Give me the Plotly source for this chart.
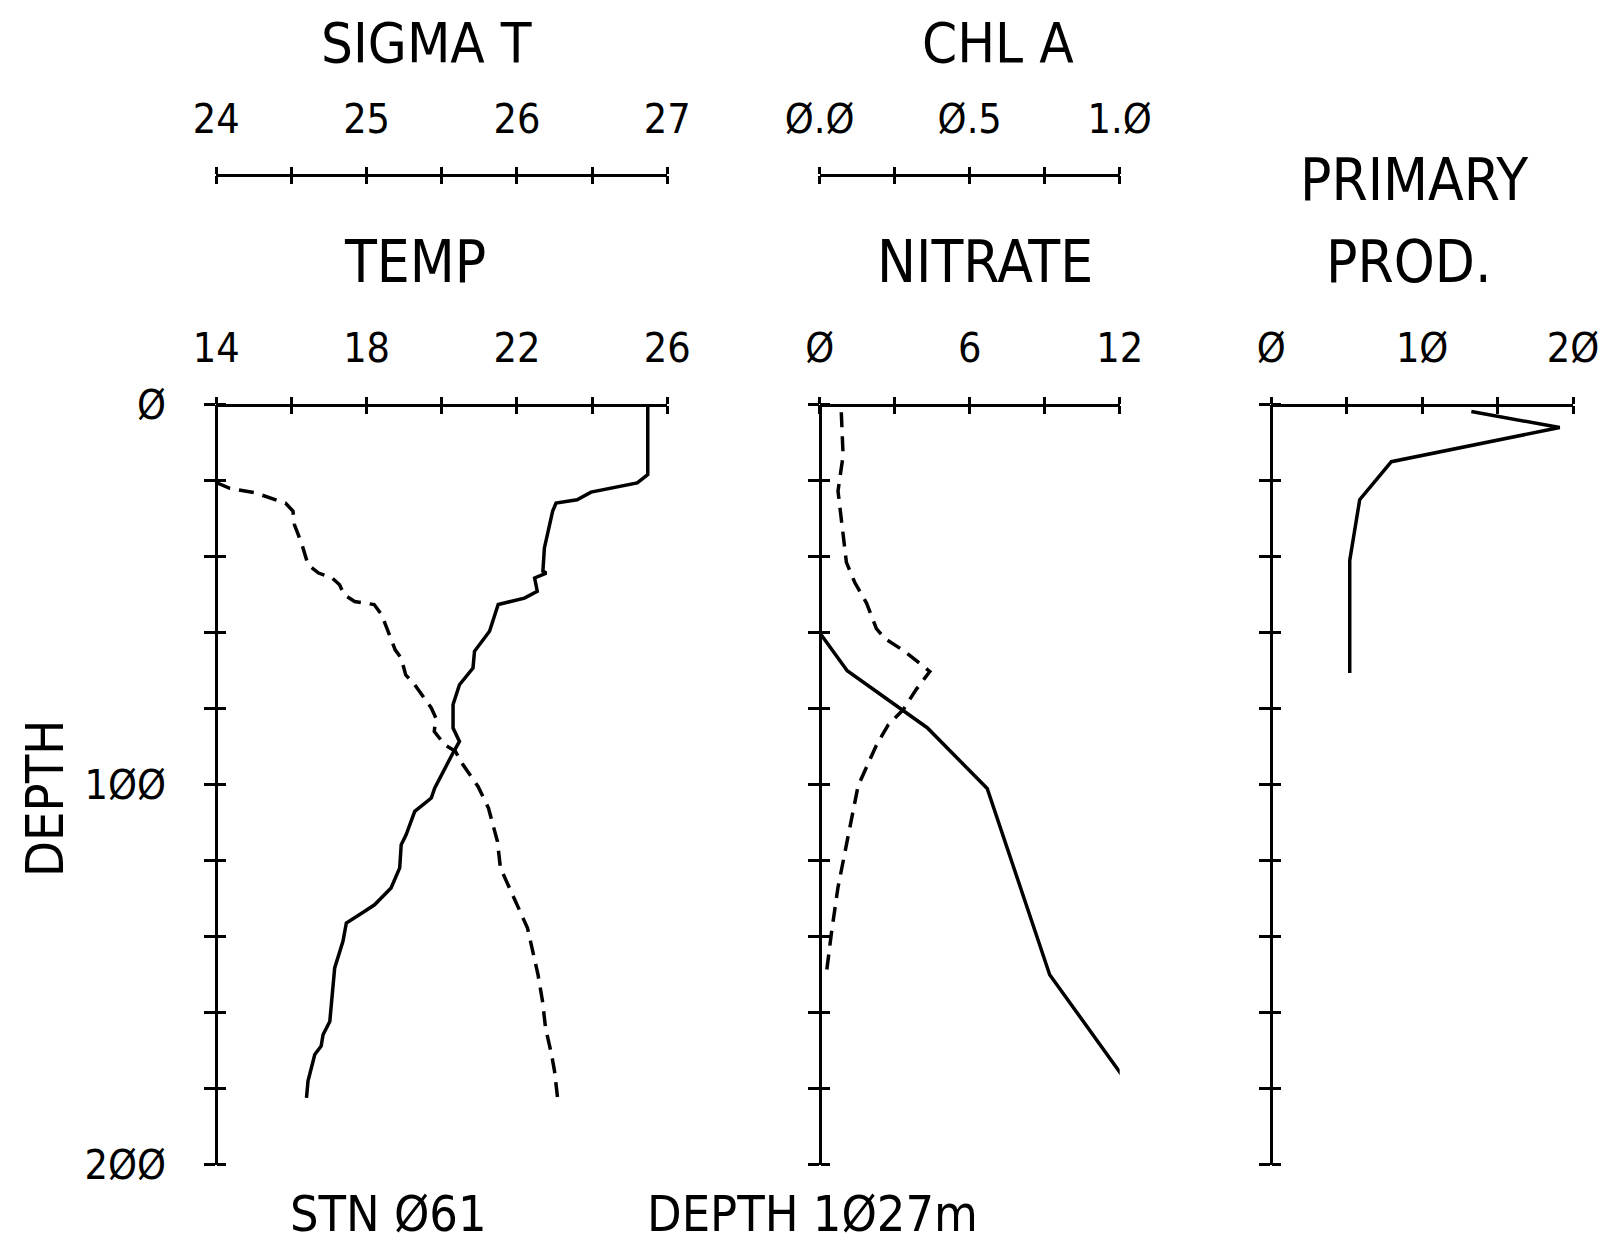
import plotly.graph_objects as go

W, H = 1606, 1246
FONT = "DejaVu Sans Condensed, Liberation Sans Narrow, Roboto, sans-serif"

# ---------------- data ----------------
temp_depth = [0, 18.4, 20.6, 23, 25, 25.9, 28, 36, 37.7, 43.8, 44.3, 45.6, 49.1, 50.9, 52.6,
              59.6, 64.9, 69.3, 73.7, 78.9, 85.1, 88.6, 91.6, 100.9, 103.5, 107, 113.2, 115.8,
              121.9, 127.2, 131.6, 133.3, 136.4, 141.2, 148.2, 162.3, 165.8, 168.8, 171, 178, 182.4]
temp_val = [25.48, 25.48, 25.2, 23.97, 23.6, 23.04, 22.95, 22.78, 22.73, 22.69, 22.78, 22.47,
            22.54, 22.2, 21.5, 21.27, 20.87, 20.83, 20.47, 20.3, 20.3, 20.47, 20.3, 19.81, 19.72,
            19.28, 19.05, 18.92, 18.88, 18.65, 18.21, 17.95, 17.46, 17.37, 17.15, 17.02, 16.84,
            16.79, 16.62, 16.44, 16.4]

sigma_depth = [20.5, 22, 23.2, 25.9, 28, 31.6, 36.8, 42.1, 44.3, 45.6, 47.4, 50, 51.8, 52.6, 55.3,
               59.6, 64.5, 66.7, 71.1, 73.7, 77.2, 79.8, 82.4, 86, 89.5, 91.2, 94.7, 100.4, 106.1,
               114.9, 121.9, 128, 133.3, 137.7, 144.7, 150, 157, 164, 171, 175.4, 182.4]
sigma_val = [24.0, 24.09, 24.26, 24.46, 24.51, 24.52, 24.57, 24.61, 24.68, 24.77, 24.82, 24.85,
             24.92, 25.05, 25.1, 25.14, 25.19, 25.23, 25.26, 25.32, 25.38, 25.43, 25.46, 25.45,
             25.52, 25.59, 25.64, 25.74, 25.81, 25.87, 25.89, 25.96, 26.02, 26.07, 26.11, 26.14,
             26.17, 26.19, 26.23, 26.25, 26.27]

nitrate_depth = [60, 70, 85, 101, 150, 182]
nitrate_val = [0.0, 1.1, 4.3, 6.7, 9.2, 12.7]

chl_depth = [2, 13.4, 22.7, 33.4, 41.5, 46.8, 52.2, 58.9, 61.5, 64.9, 70.2, 74.9, 80.3, 84.3,
             89.6, 100.3, 107, 116.4, 127, 139.1, 149.8]
chl_val = [0.072, 0.078, 0.061, 0.078, 0.089, 0.117, 0.156, 0.189, 0.217, 0.283, 0.367, 0.322,
           0.278, 0.228, 0.189, 0.128, 0.111, 0.089, 0.061, 0.039, 0.022]

pp_depth = [1.8, 6, 15, 25, 41, 70.6]
pp_val = [13.26, 19.12, 7.96, 5.86, 5.2, 5.2]

depth_ticks = list(range(0, 201, 20))
depth_labels = {0: "Ø", 100: "1ØØ", 200: "2ØØ"}
temp_ticks = [14, 16, 18, 20, 22, 24, 26]
temp_labels = {14: "14", 18: "18", 22: "22", 26: "26"}
sigma_ticks = [24, 24.5, 25, 25.5, 26, 26.5, 27]
sigma_labels = {24: "24", 25: "25", 26: "26", 27: "27"}
nitrate_ticks = [0, 3, 6, 9, 12]
nitrate_labels = {0: "Ø", 6: "6", 12: "12"}
chl_ticks = [0, 0.25, 0.5, 0.75, 1.0]
chl_labels = {0: "Ø.Ø", 0.5: "Ø.5", 1.0: "1.Ø"}
pp_ticks = [0, 5, 10, 15, 20]
pp_labels = {0: "Ø", 10: "1Ø", 20: "2Ø"}

# ---------------- layout geometry (pixels) ----------------
def fx(px):
    return px / W

def fy(py):
    return 1 - py / H

P1 = (208.3, 659.3)
P2 = (811.7, 1111.7)
P3 = (1263.3, 1565.0)
YTOP, YBOT = 396.7, 1156.7
Y_SCALE2 = 167.0

ydom = [fy(YBOT), fy(YTOP)]
LW = 3
TICKFONT = dict(family=FONT, size=41, color="black")

fig = go.Figure()

line_solid = dict(color="black", width=3.5)
line_dash = dict(color="black", width=3.5, dash="15px,9px")

fig.add_trace(go.Scatter(x=temp_val, y=temp_depth, mode="lines", line=line_solid,
                         xaxis="x", yaxis="y", showlegend=False))
fig.add_trace(go.Scatter(x=sigma_val, y=sigma_depth, mode="lines", line=line_dash,
                         xaxis="x3", yaxis="y", showlegend=False))
fig.add_trace(go.Scatter(x=nitrate_val, y=nitrate_depth, mode="lines", line=line_solid,
                         xaxis="x5", yaxis="y3", showlegend=False))
fig.add_trace(go.Scatter(x=chl_val, y=chl_depth, mode="lines", line=line_dash,
                         xaxis="x7", yaxis="y3", showlegend=False))
fig.add_trace(go.Scatter(x=pp_val, y=pp_depth, mode="lines", line=line_solid,
                         xaxis="x9", yaxis="y5", showlegend=False))

# empty traces so that the helper axes (ticks on the other side of each axis line) get drawn
for xa, ya in [("x2", "y"), ("x4", "y"), ("x", "y2"), ("x6", "y3"), ("x8", "y3"),
               ("x5", "y4"), ("x10", "y5"), ("x9", "y6")]:
    fig.add_trace(go.Scatter(x=[None], y=[None], mode="lines", xaxis=xa, yaxis=ya,
                             showlegend=False, hoverinfo="skip"))


def txt(ticks, labels):
    return [labels.get(t, "") for t in ticks]


def xpair(dom, rng, ticks, labels, pos_px, overlay, standoff=18):
    base = dict(domain=[fx(dom[0]), fx(dom[1])], range=rng, side="top",
                anchor="free", position=fy(pos_px),
                showline=True, linecolor="black", linewidth=LW, mirror=False,
                showgrid=False, zeroline=False, ticks="outside", ticklen=7,
                tickwidth=LW, tickcolor="black", tickmode="array", tickvals=ticks,
                ticktext=txt(ticks, labels), tickfont=TICKFONT, ticklabelstandoff=standoff,
                fixedrange=True, automargin=False)
    if overlay:
        base["overlaying"] = overlay
    dup = dict(range=rng, side="bottom", anchor="free", position=fy(pos_px),
               overlaying=overlay if overlay else None,
               showline=False, showgrid=False, zeroline=False,
               ticks="outside", ticklen=8, tickwidth=LW, tickcolor="black",
               tickmode="array", tickvals=ticks, showticklabels=False, fixedrange=True,
               automargin=False)
    return base, dup


def ypair(xpx, show_labels, labels, overlay=None, standoff=30):
    base = dict(domain=ydom, range=[200, 0], side="left", anchor="free", position=fx(xpx),
                showline=True, linecolor="black",
                linewidth=LW, showgrid=False, zeroline=False, ticks="outside", ticklen=11,
                tickwidth=LW, tickcolor="black", tickmode="array", tickvals=depth_ticks,
                ticktext=txt(depth_ticks, labels), showticklabels=show_labels,
                tickfont=TICKFONT, ticklabelstandoff=standoff, fixedrange=True,
                automargin=False)
    if overlay:
        base["overlaying"] = overlay
    dup = dict(range=[200, 0], side="right", anchor="free", position=fx(xpx),
               showline=False, showgrid=False, zeroline=False,
               ticks="outside", ticklen=9, tickwidth=LW, tickcolor="black", tickmode="array",
               tickvals=depth_ticks, showticklabels=False, fixedrange=True, automargin=False)
    return base, dup


layout = {}
# panel 1 : temperature (x), sigma-t (x3), depth (y)
b, d = xpair(P1, [14, 26], temp_ticks, temp_labels, YTOP, None)
layout["xaxis"] = b
d["overlaying"] = "x"
layout["xaxis2"] = d
b, d = xpair(P1, [24, 27], sigma_ticks, sigma_labels, Y_SCALE2, "x")
layout["xaxis3"] = b
layout["xaxis4"] = d
yb, yd = ypair(P1[0], True, depth_labels)
yd["overlaying"] = "y"
layout["yaxis"] = yb
layout["yaxis2"] = yd

# panel 2 : nitrate (x5), chl a (x7), depth (y3)
b, d = xpair(P2, [0, 12], nitrate_ticks, nitrate_labels, YTOP, None)
layout["xaxis5"] = b
d["overlaying"] = "x5"
layout["xaxis6"] = d
b, d = xpair(P2, [0, 1.0], chl_ticks, chl_labels, Y_SCALE2, "x5")
layout["xaxis7"] = b
layout["xaxis8"] = d
yb, yd = ypair(P2[0], False, {})
yd["overlaying"] = "y3"
layout["yaxis3"] = yb
layout["yaxis4"] = yd

# panel 3 : primary production (x9), depth (y5)
b, d = xpair(P3, [0, 20], pp_ticks, pp_labels, YTOP, None)
layout["xaxis9"] = b
d["overlaying"] = "x9"
layout["xaxis10"] = d
yb, yd = ypair(P3[0], False, {})
yd["overlaying"] = "y5"
layout["yaxis5"] = yb
layout["yaxis6"] = yd

for k, v in layout.items():
    if v.get("overlaying", "") is None:
        v.pop("overlaying")

fig.update_layout(**layout)


def ann(text, px, py, size, angle=0):
    fig.add_annotation(text=text, x=fx(px), y=fy(py), xref="paper", yref="paper",
                       xanchor="center", yanchor="middle", showarrow=False, textangle=angle,
                       font=dict(family=FONT, size=size, color="black"))


ann("SIGMA T", 418, 35, 56)
ann("TEMP", 407, 254, 58)
ann("CHL A", 990, 35, 56)
ann("NITRATE", 977, 254, 58)
ann("PRIMARY", 1406, 172, 58)
ann("PROD.", 1401, 254, 58)
ann("DEPTH", 37, 790, 52, angle=-90)
ann("STN Ø61", 380, 1206, 50)
ann("DEPTH 1Ø27m", 804, 1206, 50)

fig.update_layout(template="none", width=W, height=H,
                  margin=dict(l=0, r=0, t=0, b=0, pad=0, autoexpand=False),
                  paper_bgcolor="white", plot_bgcolor="rgba(0,0,0,0)", showlegend=False,
                  font=dict(family=FONT, color="black"))

fig.write_html("out.html")
